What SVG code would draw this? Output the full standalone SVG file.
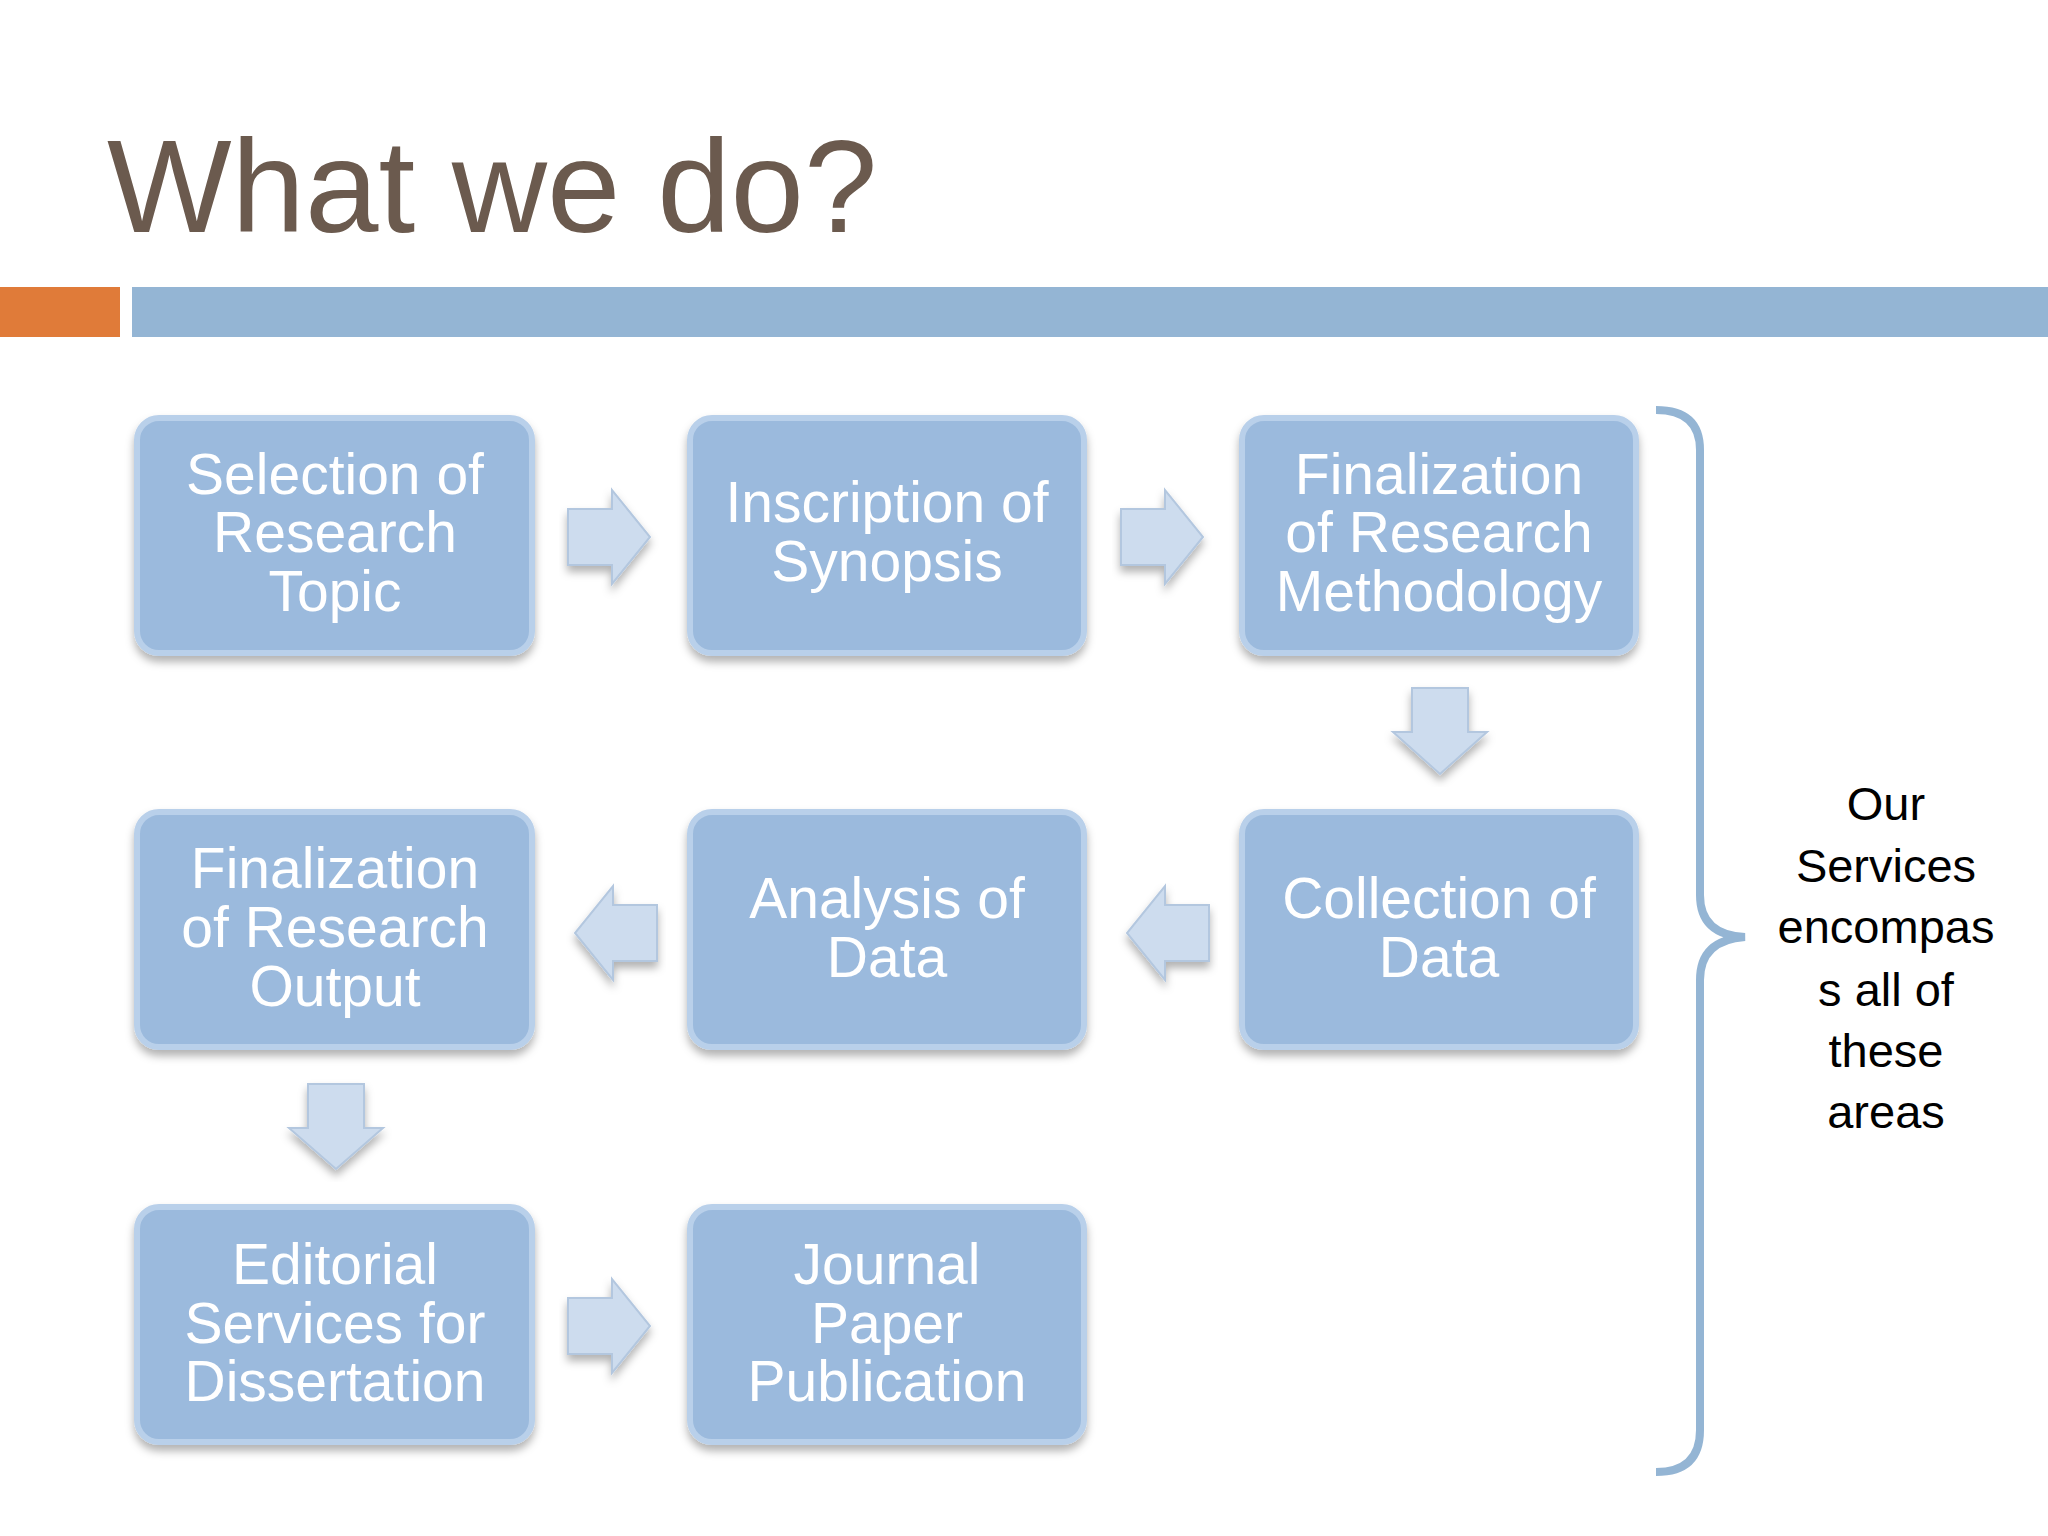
<svg xmlns="http://www.w3.org/2000/svg" width="2048" height="1536" viewBox="0 0 2048 1536">
<defs>
<filter id="sh" x="-10%" y="-10%" width="120%" height="125%"><feDropShadow dx="0" dy="6" stdDeviation="4" flood-color="#000" flood-opacity="0.3"/></filter>
<linearGradient id="edge" x1="0" y1="0" x2="0" y2="1"><stop offset="0" stop-color="#a9c4e2"/><stop offset="1" stop-color="#8fb0d6"/></linearGradient>
<style>
.box{fill:#9bbadd;stroke:#b9d0ea;stroke-width:6;filter:url(#sh)}
.bt{font-family:"Liberation Sans",Arial,sans-serif;font-size:57px;fill:#fff;text-anchor:middle}
.arr{fill:#cddcee;stroke:#b3c7df;stroke-width:2;filter:url(#sh)}
.rt{font-family:"Liberation Sans",Arial,sans-serif;font-size:47px;fill:#000;text-anchor:middle}
</style>
</defs>
<rect width="2048" height="1536" fill="#fff"/>
<text x="107" y="232" font-family="Liberation Sans,Arial,sans-serif" font-size="132" fill="#6b5a4e">What we do?</text>
<rect x="0" y="287" width="120" height="50" fill="#e07b39"/>
<rect x="132" y="287" width="1916" height="50" fill="#94b5d4"/>
<g id="connectors">
<path class="arr" d="M568 509 H612 V490 L650 537 L612 584 V565 H568 Z"/>
<path class="arr" d="M1121 509 H1165 V490 L1203 537 L1165 584 V565 H1121 Z"/>
<path class="arr" d="M1412 688 V732 H1393 L1440 774 L1487 732 H1468 V688 Z"/>
<path class="arr" d="M1209 905 H1165 V886 L1127 933 L1165 980 V961 H1209 Z"/>
<path class="arr" d="M657 905 H613 V886 L575 933 L613 980 V961 H657 Z"/>
<path class="arr" d="M308 1084 V1128 H289 L336 1169 L383 1128 H364 V1084 Z"/>
<path class="arr" d="M568 1298 H612 V1279 L650 1326 L612 1373 V1354 H568 Z"/>
<path d="M1656 410 Q1700 410 1700 450 V895 Q1700 935 1745 937 Q1700 940 1700 980 V1430 Q1700 1472 1656 1472" fill="none" stroke="#94b5d4" stroke-width="8"/>
</g>
<g id="n1"><rect class="box" x="137" y="418" width="395" height="235" rx="22"/><text class="bt"><tspan x="335" y="494">Selection of</tspan><tspan x="335" y="552">Research</tspan><tspan x="335" y="611">Topic</tspan></text></g>
<g id="n2"><rect class="box" x="690" y="418" width="394" height="235" rx="22"/><text class="bt"><tspan x="887" y="522">Inscription of</tspan><tspan x="887" y="581">Synopsis</tspan></text></g>
<g id="n3"><rect class="box" x="1242" y="418" width="394" height="235" rx="22"/><text class="bt"><tspan x="1439" y="494">Finalization</tspan><tspan x="1439" y="552">of Research</tspan><tspan x="1439" y="611">Methodology</tspan></text></g>
<g id="n4"><rect class="box" x="1242" y="812" width="394" height="235" rx="22"/><text class="bt"><tspan x="1439" y="918">Collection of</tspan><tspan x="1439" y="977">Data</tspan></text></g>
<g id="n5"><rect class="box" x="690" y="812" width="394" height="235" rx="22"/><text class="bt"><tspan x="887" y="918">Analysis of</tspan><tspan x="887" y="977">Data</tspan></text></g>
<g id="n6"><rect class="box" x="137" y="812" width="395" height="235" rx="22"/><text class="bt"><tspan x="335" y="888">Finalization</tspan><tspan x="335" y="947">of Research</tspan><tspan x="335" y="1006">Output</tspan></text></g>
<g id="n7"><rect class="box" x="137" y="1207" width="395" height="235" rx="22"/><text class="bt"><tspan x="335" y="1284">Editorial</tspan><tspan x="335" y="1343">Services for</tspan><tspan x="335" y="1401">Dissertation</tspan></text></g>
<g id="n8"><rect class="box" x="690" y="1207" width="394" height="235" rx="22"/><text class="bt"><tspan x="887" y="1284">Journal</tspan><tspan x="887" y="1343">Paper</tspan><tspan x="887" y="1401">Publication</tspan></text></g>
<g id="note"><text class="rt"><tspan x="1886" y="820">Our</tspan><tspan x="1886" y="882">Services</tspan><tspan x="1886" y="943">encompas</tspan><tspan x="1886" y="1006">s all of</tspan><tspan x="1886" y="1067">these</tspan><tspan x="1886" y="1128">areas</tspan></text></g>
</svg>
